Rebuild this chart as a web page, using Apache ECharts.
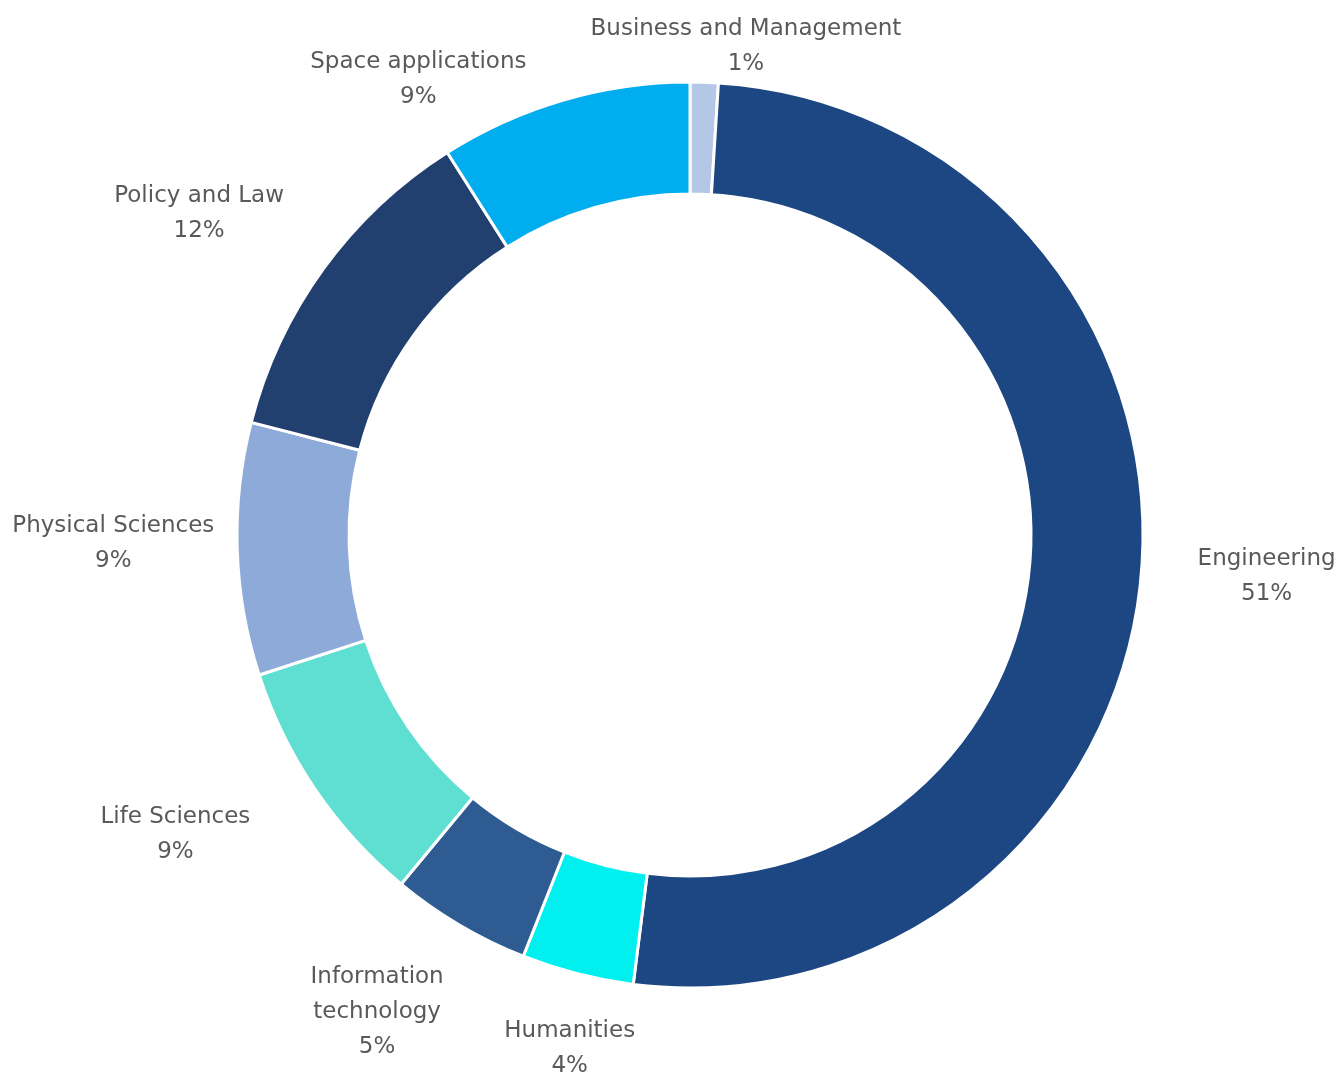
<!DOCTYPE html>
<html>
<head>
<meta charset="utf-8">
<script src="https://cdn.jsdelivr.net/npm/echarts@6/dist/echarts.min.js"></script>
<style>
  html, body { margin: 0; padding: 0; background: #ffffff; }
  #chart { width: 1339px; height: 1075px; }
</style>
</head>
<body>
<div id="chart"></div>
<script>
// Share of programmes by discipline (percent), clockwise from 12 o'clock
const categories = [
  'Business and Management',
  'Engineering',
  'Humanities',
  'Information technology',
  'Life Sciences',
  'Physical Sciences',
  'Policy and Law',
  'Space applications'
];
const shares = [1, 51, 4, 5, 9, 9, 12, 9];

const sliceColors = ['#b4c7e7', '#1d4783', '#00f0f0', '#2e5b92', '#5fdfd2', '#8eaad9', '#21406f', '#00adee'];

// Label placement: nudge (px) from a point on the slice's mid-angle ray
const labelNudge = [[39, 51], [39, -9], [14, -10], [-38, 12], [-68, -4], [-37, -8], [-54, -4], [-121, 63]];

const cx = 690, cy = 535;
const innerR = 341, outerR = 453, labelR = 540;

const total = shares.reduce((a, b) => a + b, 0);
const midAngles = [];
let acc = 0;
shares.forEach(v => {
  midAngles.push((acc + v / 2) / total * Math.PI * 2);
  acc += v;
});

const chart = echarts.init(document.getElementById('chart'), null, { renderer: 'canvas' });

chart.setOption({
  backgroundColor: '#ffffff',
  animation: false,
  series: [{
    type: 'pie',
    center: [cx, cy],
    radius: [innerR, outerR],
    startAngle: 90,
    clockwise: true,
    avoidLabelOverlap: false,
    data: categories.map((name, i) => ({
      name: name,
      value: shares[i],
      itemStyle: { color: sliceColors[i] }
    })),
    itemStyle: { borderColor: '#ffffff', borderWidth: 3 },
    label: {
      show: true,
      position: 'outside',
      formatter: p => p.name.replace('Information technology', 'Information\ntechnology') + '\n' + p.value + '%',
      fontFamily: 'DejaVu Sans',
      fontSize: 23,
      lineHeight: 35,
      color: '#595959',
      align: 'center'
    },
    labelLine: { show: false },
    labelLayout: function (p) {
      const i = p.dataIndex;
      const a = midAngles[i];
      return {
        x: cx + labelR * Math.sin(a) + labelNudge[i][0],
        y: cy - labelR * Math.cos(a) + labelNudge[i][1],
        align: 'center',
        verticalAlign: 'middle'
      };
    },
    emphasis: { disabled: true }
  }]
});
</script>
</body>
</html>
